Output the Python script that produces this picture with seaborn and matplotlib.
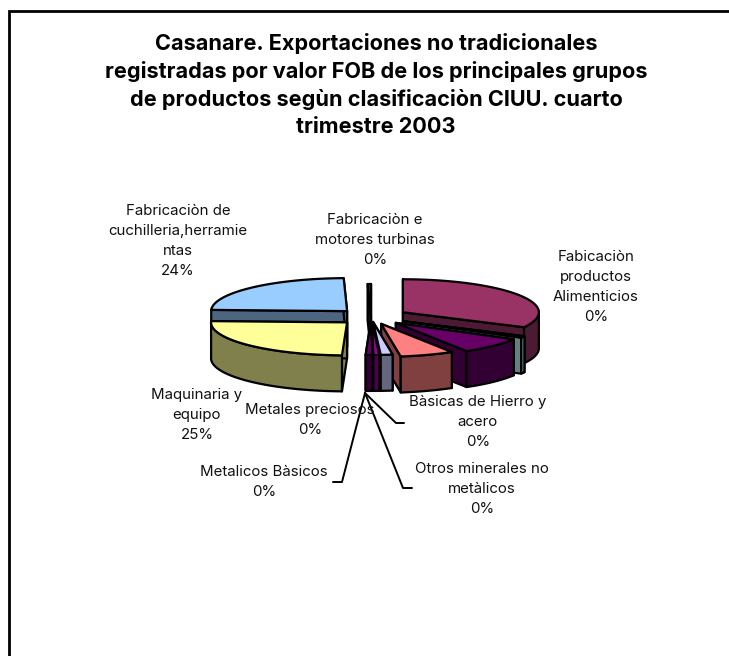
#!/usr/bin/env python3
import numpy as np
import matplotlib
matplotlib.use('Agg')
import matplotlib.pyplot as plt
from matplotlib.patches import Polygon, Rectangle
import seaborn as sns

sns.set_theme(style='white')
plt.rcParams['font.family'] = ['Inter', 'Liberation Sans', 'DejaVu Sans']

title = ('Casanare. Exportaciones no tradicionales\n'
         'registradas por valor FOB de los principales grupos\n'
         'de productos segùn clasificaciòn CIUU. cuarto\n'
         'trimestre 2003')

# shares, clockwise from 12 o'clock
groups = ['Fabicaciòn productos Alimenticios', 'Sin etiqueta', 'Sin etiqueta 2',
          'Otros minerales', 'Bàsicas de Hierro', 'Metales preciosos', 'Metalicos Bàsicos',
          'Maquinaria y equipo', 'Fabricaciòn de cuchilleria', 'Fabricaciòn e motores']
shares = [32.5, 0.8, 8.0, 6.4, 1.4, 0.7, 0.8, 25.0, 24.0, 0.4]
explode = [0.275, 0.27, 0.255, 0.22, 0.15, 0.15, 0.15, 0.24, 0.25, 0.0]
top_colors = ['#993366', '#CCFFFF', '#660066', '#FF8080', '#CCCCFF',
              '#990099', '#660066', '#FFFF99', '#99CCFF', '#333333']
draw_order = [8, 9, 0, 1, 2, 3, 4, 5, 6, 7]

labels = ['Fabricaciòn de\ncuchilleria,herramie\nntas\n24%',
          'Fabricaciòn e\nmotores turbinas\n0%',
          'Fabicaciòn\nproductos\nAlimenticios\n0%',
          'Bàsicas de Hierro y\nacero\n0%',
          'Otros minerales no\nmetàlicos\n0%',
          'Metalicos Bàsicos\n0%',
          'Metales preciosos\n0%',
          'Maquinaria y\nequipo\n25%']
label_x = [178, 375, 596, 478, 482, 264, 310, 197]
label_y = [241, 240, 287, 422, 489, 482, 420, 415]

W, H = 729, 656
CX, CY, RX, RY, DEPTH = 371, 317, 136, 33, 36

fig = plt.figure(figsize=(W / 100, H / 100), dpi=100)
ax = fig.add_axes([0, 0, 1, 1])
ax.set_xlim(0, W)
ax.set_ylim(H, 0)
ax.axis('off')

ax.add_patch(Rectangle((9.3, 10.5), W + 20, H + 20, fc='white', ec='black', lw=2.0))

palette = sns.color_palette(top_colors)
edges = np.cumsum([0] + shares) * 3.6


def shade(c):
    return tuple(v * 0.5 for v in c)


def slice_parts(i):
    a0, a1 = np.radians(edges[i]), np.radians(edges[i + 1])
    mid = (a0 + a1) / 2
    ox = CX + explode[i] * RX * np.sin(mid)
    oy = CY - explode[i] * RY * np.cos(mid)
    th = np.linspace(a0, a1, 80)
    rim = np.c_[ox + RX * np.sin(th), oy - RY * np.cos(th)]
    return np.array([ox, oy]), rim


for i in draw_order:
    apex, rim = slice_parts(i)
    top = palette[i]
    side = shade(top)
    drop = np.array([0, DEPTH])
    style = dict(ec='black', lw=1.6, joinstyle='round')
    # the two cut faces
    for p in (rim[0], rim[-1]):
        ax.add_patch(Polygon([apex, p, p + drop, apex + drop], fc=side, **style))
    # outer wall, only where it faces the viewer
    vis = rim[:, 1] >= apex[1] - 1
    if vis.any():
        w = rim[vis]
        ax.add_patch(Polygon(np.r_[w, (w + drop)[::-1]], fc=side, **style))
    ax.add_patch(Polygon(np.r_[[apex], rim], fc=top, **style))

# leader lines of the small slices
ax.plot([365, 396, 404], [393, 423, 423], color='black', lw=1.4)
ax.plot([365, 342, 333], [393, 482, 482], color='black', lw=1.4)
ax.plot([365, 403, 412], [393, 488, 488], color='black', lw=1.4)

ax.text(376, 85, title, ha='center', va='center', fontsize=15.6, fontweight='bold',
        color='black', linespacing=1.43)
for txt, x, y in zip(labels, label_x, label_y):
    ax.text(x, y, txt, ha='center', va='center', fontsize=10.8, color='#111111', linespacing=1.56)

fig.savefig('out.png', dpi=100)
